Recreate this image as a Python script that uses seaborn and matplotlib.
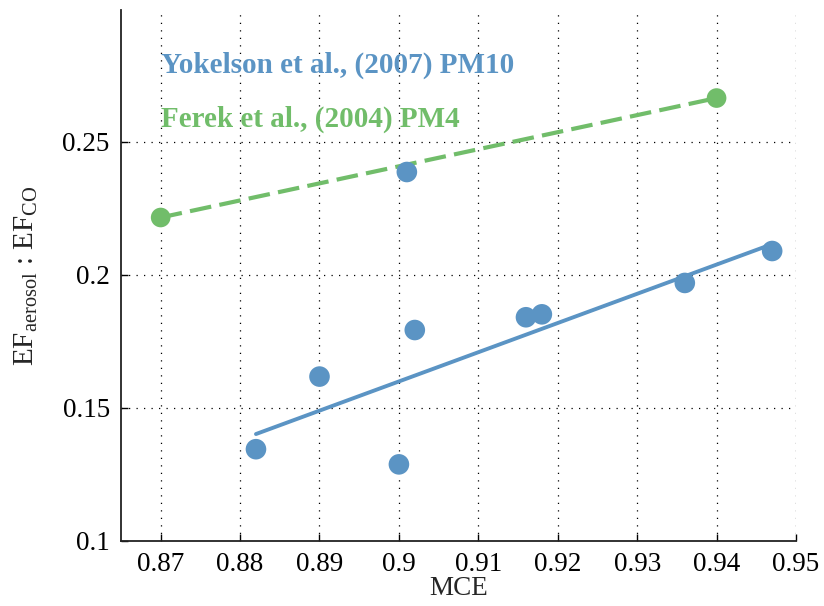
import numpy as np
import pandas as pd
import matplotlib
matplotlib.use("Agg")
import matplotlib.pyplot as plt
import seaborn as sns

# Yokelson et al. (2007) PM10 measurements
yok_mce = [0.882, 0.890, 0.900, 0.901, 0.902, 0.916, 0.918, 0.936, 0.947]
yok_ratio = [0.1345, 0.1618, 0.1288, 0.2387, 0.1793, 0.1841, 0.1852, 0.1970, 0.2090]
# sample excluded from the linear fit
yok_outlier_mce = 0.901

# Ferek et al. (2004) PM4 measurements
fer_mce = [0.870, 0.940]
fer_ratio = [0.2216, 0.2665]

x_ticks = [0.87, 0.88, 0.89, 0.90, 0.91, 0.92, 0.93, 0.94, 0.95]
x_ticklabels = ["0.87", "0.88", "0.89", "0.9", "0.91", "0.92", "0.93", "0.94", "0.95"]
y_ticks = [0.10, 0.15, 0.20, 0.25]
y_ticklabels = ["0.1", "0.15", "0.2", "0.25"]

BLUE = "#5b94c4"
GREEN = "#71bd6a"

sns.set_theme(style="white")
plt.rcParams["font.family"] = ["Liberation Serif", "DejaVu Serif"]
plt.rcParams["mathtext.fontset"] = "custom"
plt.rcParams["mathtext.rm"] = "Liberation Serif"

yok = pd.DataFrame({"mce": yok_mce, "ratio": yok_ratio})
fer = pd.DataFrame({"mce": fer_mce, "ratio": fer_ratio})

# least-squares fit of the Yokelson data
fit_src = yok[~np.isclose(yok["mce"], yok_outlier_mce)]
slope, intercept = np.polyfit(fit_src["mce"], fit_src["ratio"], 1)
fit = pd.DataFrame({"mce": [fit_src["mce"].min(), fit_src["mce"].max()]})
fit["ratio"] = slope * fit["mce"] + intercept

fig = plt.figure(figsize=(8.24, 6.06), dpi=100)
ax = fig.add_axes([0.1468, 0.1073, 0.8192, 0.8762])

# grid first so the data sit on top
for xt in x_ticks:
    ax.axvline(xt, color="black", lw=0.9, ls=(0, (1, 5)), zorder=0)
for yt in y_ticks[1:]:
    ax.axhline(yt, color="black", lw=0.9, ls=(0, (1, 5)), zorder=0)

sns.lineplot(data=fer, x="mce", y="ratio", ax=ax, color=GREEN, lw=3.0,
             dashes=False, linestyle=(0, (5.2, 2.0)), zorder=2)
sns.scatterplot(data=fer, x="mce", y="ratio", ax=ax, color=GREEN, s=200,
                edgecolor="none", zorder=3)

sns.lineplot(data=fit, x="mce", y="ratio", ax=ax, color=BLUE, lw=2.8, zorder=2)
sns.scatterplot(data=yok, x="mce", y="ratio", ax=ax, color=BLUE, s=220,
                edgecolor="none", zorder=3)

ax.set_xlim(0.865, 0.95)
ax.set_ylim(0.10, 0.2996)
ax.set_xticks(x_ticks)
ax.set_xticklabels(x_ticklabels)
ax.set_yticks(y_ticks)
ax.set_yticklabels(y_ticklabels)
ax.tick_params(axis="both", direction="in", length=5, width=1.0,
               labelsize=19.5, colors="black", pad=8, bottom=True, left=True)

for side in ("top", "right"):
    ax.spines[side].set_visible(False)
for side in ("left", "bottom"):
    ax.spines[side].set_color("#222222")
    ax.spines[side].set_linewidth(1.3)

ax.set_xlabel("MCE", fontsize=19.5, labelpad=-1)
ax.set_ylabel(r"EF$_{\mathrm{aerosol}}$ : EF$_{\mathrm{CO}}$", fontsize=21, labelpad=16)

ax.text(0.8701, 0.2759, "Yokelson et al., (2007) PM10", color=BLUE,
        fontsize=21, fontweight="bold", va="baseline", ha="left")
ax.text(0.8701, 0.2556, "Ferek et al., (2004) PM4", color=GREEN,
        fontsize=21, fontweight="bold", va="baseline", ha="left")

fig.savefig("out.png", dpi=100, facecolor="white")
